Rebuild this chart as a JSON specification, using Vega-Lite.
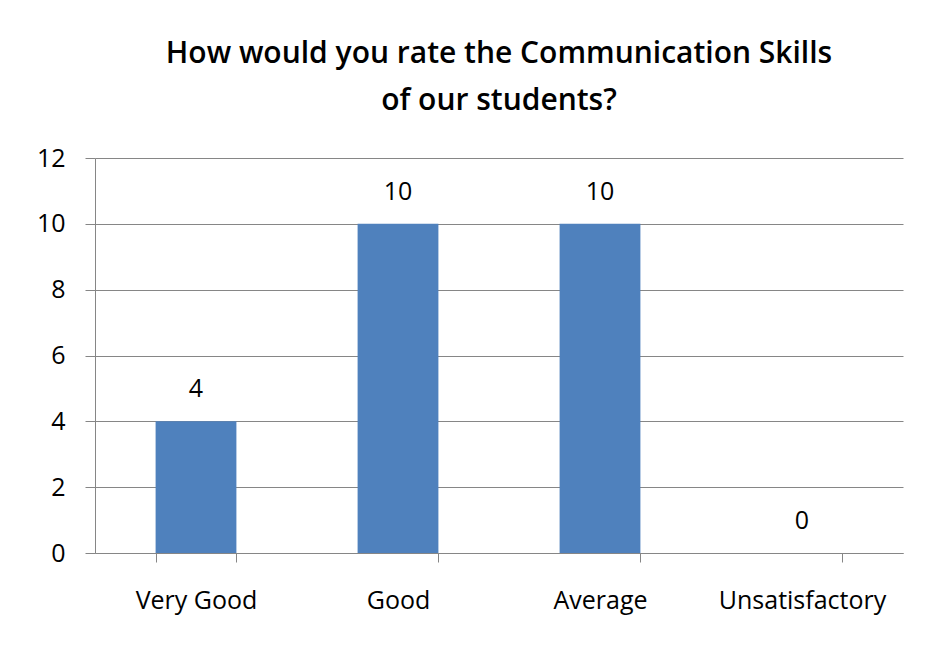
{
  "$schema": "https://vega.github.io/schema/vega-lite/v6.json",
  "width": 808,
  "height": 395,
  "autosize": {"type": "none"},
  "padding": {"left": 95, "top": 158, "right": 33, "bottom": 99},
  "background": "white",
  "title": {
    "text": ["How would you rate the Communication  Skills", "of our students?"],
    "font": "Open Sans",
    "fontSize": 30,
    "fontWeight": 600,
    "color": "black",
    "lineHeight": 47,
    "offset": 30,
    "anchor": "middle"
  },
  "data": {
    "values": [
      {"rating": "Very Good", "count": 4},
      {"rating": "Good", "count": 10},
      {"rating": "Average", "count": 10},
      {"rating": "Unsatisfactory", "count": 0}
    ]
  },
  "config": {
    "view": {"stroke": null},
    "font": "Open Sans"
  },
  "encoding": {
    "x": {
      "field": "rating",
      "type": "nominal",
      "sort": null,
      "scale": {"paddingInner": 0.6, "paddingOuter": 0.3},
      "axis": {
        "title": null,
        "labelAngle": 0,
        "labelFont": "Open Sans",
        "labelFontSize": 25,
        "labelColor": "black",
        "domainColor": "#868686",
        "tickColor": "#868686",
        "tickSize": 9,
        "tickBand": "extent",
        "labelPadding": 26,
        "grid": false
      }
    },
    "y": {
      "field": "count",
      "type": "quantitative",
      "scale": {"domain": [0, 12]},
      "axis": {
        "title": null,
        "values": [0, 2, 4, 6, 8, 10, 12],
        "labelFont": "Open Sans",
        "labelFontSize": 25,
        "labelColor": "black",
        "domainColor": "#868686",
        "tickColor": "#868686",
        "gridColor": "#868686",
        "tickSize": 10,
        "labelPadding": 20
      }
    }
  },
  "layer": [
    {"mark": {"type": "bar", "color": "#4F81BD"}},
    {
      "mark": {"type": "text", "baseline": "bottom", "dy": -19, "fontSize": 25, "font": "Open Sans", "color": "black"},
      "encoding": {"text": {"field": "count", "type": "quantitative"}}
    }
  ]
}
